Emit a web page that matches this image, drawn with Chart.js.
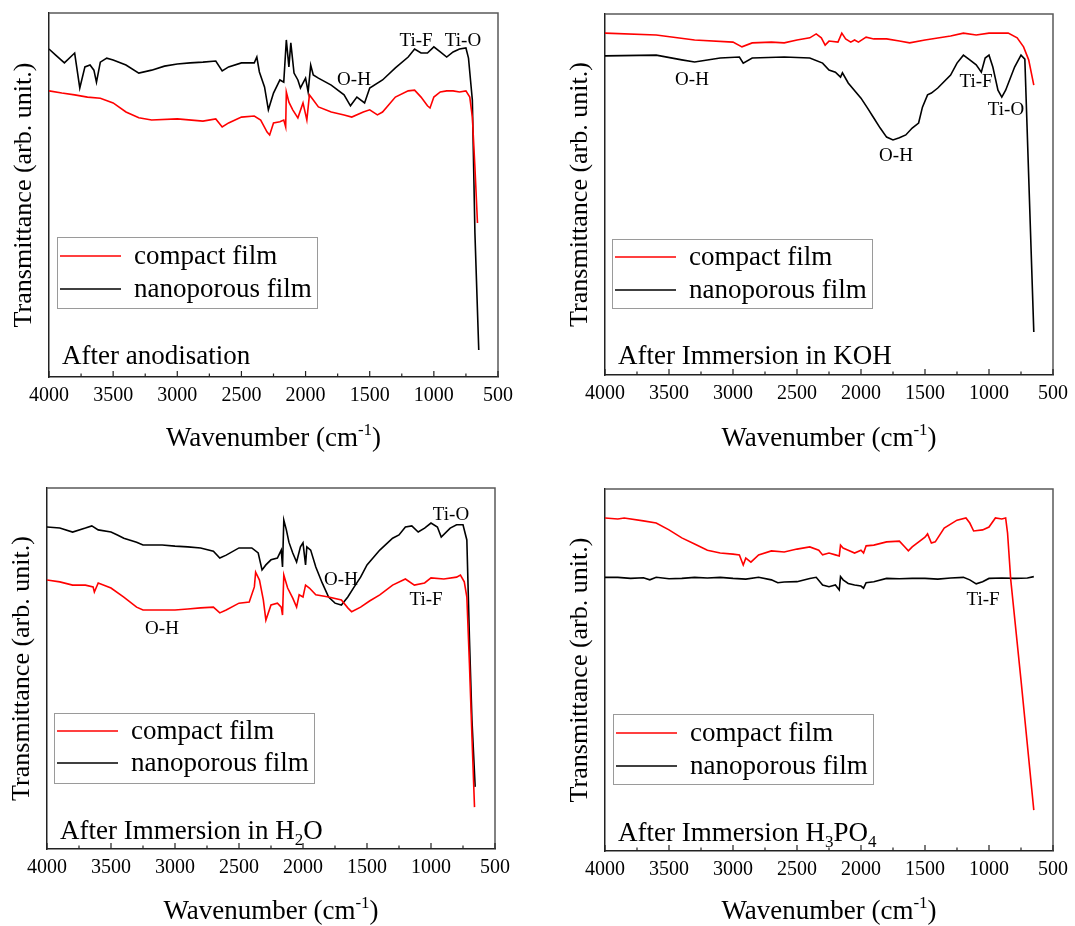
<!DOCTYPE html>
<html>
<head>
<meta charset="utf-8">
<script src="https://cdn.jsdelivr.net/npm/chart.js@4.4.1/dist/chart.umd.min.js"></script>
<style>
html, body { margin: 0; padding: 0; background: #fff; }
#wrap { position: relative; width: 1075px; height: 926px; }
#wrap canvas { position: absolute; left: 0; top: 0; }
</style>
</head>
<body>
<div id="wrap">
  <canvas id="c1" width="1075" height="926"></canvas>
  <canvas id="c2" width="1075" height="926"></canvas>
  <canvas id="c3" width="1075" height="926"></canvas>
  <canvas id="c4" width="1075" height="926"></canvas>
</div>
<script>
// ---- axis ticks (cm-1) ----
const xTicks = [4000, 3500, 3000, 2500, 2000, 1500, 1000, 500];
const xMinorTicks = [3750, 3250, 2750, 2250, 1750, 1250, 750];
const seriesNames = ['compact film', 'nanoporous film'];

// ---- After anodisation ----
const anodCompactWn = [4000,3900,3800,3700,3600,3500,3400,3300,3200,3000,2800,2700,2650,2600,2500,2400,2350,2300,2280,2250,2200,2170,2155,2150,2130,2100,2060,2020,1990,1970,1950,1900,1800,1700,1640,1550,1500,1440,1400,1300,1200,1150,1100,1050,1030,1000,950,900,850,800,750,720,700,680,660];
const anodCompact = [78.6,78.0,77.5,76.9,76.6,75.3,72.8,71.2,70.6,70.9,70.3,70.9,68.7,69.8,71.4,71.7,70.6,67.3,66.5,69.8,70.1,70.6,68.7,78.3,75.5,73.4,71.2,75.3,70.6,77.5,76.6,74.2,72.8,72.0,71.4,72.8,73.4,72.0,72.8,76.9,78.6,78.8,76.9,74.5,73.9,76.9,78.3,78.6,78.6,78.3,78.6,76.9,71.4,57.7,42.3];
const anodPorousWn = [4000,3950,3880,3800,3760,3720,3680,3650,3630,3600,3550,3500,3400,3300,3200,3100,3000,2900,2800,2700,2650,2600,2500,2400,2380,2360,2320,2290,2250,2200,2170,2150,2130,2115,2090,2060,2040,2000,1980,1960,1940,1900,1800,1700,1650,1600,1540,1500,1400,1300,1200,1150,1100,1050,1000,950,900,850,800,750,730,700,680,650];
const anodPorous = [90.1,88.5,86.3,89.0,79.4,85.2,85.7,84.3,81.0,86.5,87.6,87.1,85.7,83.5,84.3,85.4,86.0,86.3,86.5,86.8,84.1,85.2,86.3,86.3,87.9,83.8,79.7,73.4,78.0,81.6,81.0,92.6,85.2,91.8,83.5,81.6,79.4,82.1,78.3,85.7,83.0,82.1,80.2,77.5,74.5,76.9,75.3,79.4,81.6,84.9,87.9,90.1,89.0,89.0,90.7,89.3,87.9,89.3,90.1,90.4,87.6,76.1,39.6,7.4];

// ---- After immersion in KOH ----
const kohCompactWn = [4000,3600,3300,3000,2930,2850,2700,2600,2500,2400,2350,2310,2280,2250,2180,2150,2120,2080,2050,2020,1960,1900,1800,1700,1620,1500,1300,1200,1100,1000,850,780,730,690,650];
const kohCompact = [94.7,94.2,92.8,92.2,90.9,92.0,92.2,92.0,92.8,93.4,94.5,93.4,91.4,92.5,92.2,94.7,93.1,92.2,92.8,92.2,93.6,93.1,93.1,92.5,92.0,92.8,93.9,94.7,94.2,94.7,94.7,93.4,90.9,87.3,80.3];
const kohPorousWn = [4000,3600,3400,3300,3100,2950,2920,2850,2600,2400,2300,2250,2200,2160,2145,2100,2000,1950,1900,1850,1800,1750,1700,1650,1600,1550,1520,1480,1450,1400,1300,1250,1200,1150,1100,1060,1030,1000,970,930,900,870,800,750,720,650];
const kohPorous = [88.4,88.6,87.3,86.7,87.8,88.1,86.4,87.8,88.1,87.8,86.4,84.5,83.9,82.5,83.7,80.9,76.7,74.0,71.2,68.4,65.9,65.1,65.7,66.5,68.4,69.8,74.2,77.6,78.1,79.5,83.1,86.4,88.6,87.3,85.9,83.9,87.8,88.6,85.3,78.9,77.0,78.9,85.3,88.6,87.5,11.9];

// ---- After immersion in H2O ----
const h2oCompactWn = [4000,3900,3800,3700,3640,3630,3600,3500,3400,3300,3250,3100,3000,2900,2800,2700,2650,2600,2500,2420,2380,2370,2340,2310,2290,2250,2200,2170,2160,2150,2120,2080,2050,2030,2000,1980,1950,1900,1800,1700,1650,1620,1550,1480,1400,1300,1200,1130,1050,1000,900,800,770,740,720,700,680,660];
const h2oCompact = [74.5,74.0,73.1,73.1,72.6,71.2,73.7,72.3,69.8,67.0,66.2,66.2,66.2,66.5,66.8,67.0,65.4,66.2,68.1,68.4,72.6,76.7,74.5,69.0,63.4,67.6,68.1,67.0,64.8,75.9,72.3,69.5,67.0,70.4,69.8,73.1,72.3,70.4,69.8,69.0,66.8,65.7,67.0,68.7,70.4,73.1,74.8,73.1,73.7,75.1,74.8,75.3,75.9,74.0,69.8,51.5,31.0,11.6];
const h2oPorousWn = [4000,3900,3800,3700,3650,3600,3500,3450,3400,3300,3250,3100,3000,2900,2800,2700,2650,2600,2500,2400,2350,2320,2290,2250,2200,2170,2160,2150,2130,2110,2080,2050,2020,2000,1980,1970,1940,1900,1850,1800,1750,1700,1650,1600,1550,1500,1400,1300,1250,1200,1150,1100,1050,1000,950,920,850,800,750,720,700,680,655];
const h2oPorous = [89.2,88.9,87.8,88.9,89.5,88.4,87.8,87.0,86.1,85.0,84.2,84.2,83.9,83.7,83.4,82.5,80.6,81.4,83.4,83.4,82.0,77.3,78.7,80.1,80.6,82.8,78.1,91.1,88.4,85.0,82.0,79.5,83.7,84.8,78.7,83.7,82.8,78.1,73.7,69.8,68.1,67.6,69.8,72.6,75.3,78.7,82.8,86.1,87.0,89.2,89.5,87.8,88.9,90.3,89.2,86.4,88.9,89.8,89.8,85.6,58.7,35.7,17.2];

// ---- After immersion in H3PO4 ----
const h3po4CompactWn = [4000,3900,3850,3700,3600,3500,3400,3300,3200,3100,3000,2950,2920,2900,2860,2800,2700,2600,2500,2400,2330,2300,2250,2200,2170,2160,2140,2100,2050,2000,1980,1960,1900,1800,1700,1650,1630,1600,1500,1480,1450,1420,1350,1250,1180,1150,1120,1050,1000,950,900,870,855,830,750,650];
const h3po4Compact = [92.0,91.7,92.0,91.2,90.6,88.7,86.5,84.8,83.1,82.3,82.0,81.8,79.0,80.9,79.8,81.8,82.9,82.6,83.4,84.0,83.1,81.8,82.3,81.8,81.5,84.5,83.7,83.1,82.3,83.1,82.3,84.3,84.5,85.4,85.6,83.7,82.9,84.0,86.7,87.6,85.1,85.4,89.2,91.4,92.0,90.6,88.4,88.7,89.5,92.0,91.7,92.0,87.8,74.9,47.2,11.3];
const h3po4PorousWn = [4000,3900,3800,3700,3650,3600,3500,3400,3300,3200,3100,3000,2900,2800,2700,2650,2600,2500,2400,2350,2300,2250,2200,2170,2160,2140,2100,2050,2000,1980,1960,1900,1800,1700,1600,1500,1400,1300,1200,1150,1100,1050,1000,900,800,700,650];
const h3po4Porous = [75.6,75.6,75.3,75.5,74.9,75.6,75.2,75.3,75.6,75.4,75.6,75.3,75.1,75.6,74.9,74.1,74.3,74.4,75.3,75.6,73.5,73.0,73.5,72.1,75.8,74.9,73.9,73.5,73.2,72.6,74.1,74.4,75.3,75.2,75.3,75.3,75.1,75.4,75.6,74.9,73.8,74.4,75.3,75.4,75.3,75.4,75.8];

const FONT = '"Liberation Serif", "Times New Roman", serif';
Chart.defaults.font.family = FONT;
Chart.defaults.color = '#000';

const xTitle = [{ t: 'Wavenumber (cm' }, { t: '-1', sup: true }, { t: ')' }];

// page layout of each panel (plot box, legend, labels)
const panels = [
    {
        id: 'c1', area: { l: 49, t: 13, r: 498, b: 377 }, titleY: 446,
        label: [{ t: 'After anodisation' }], labelX: 62, labelY: 364,
        notes: [{ t: 'O-H', x: 354, y: 85 }, { t: 'Ti-F', x: 416, y: 46 }, { t: 'Ti-O', x: 463, y: 46 }],
        legend: { x: 57, y: 237, w: 260, h: 71, rows: [19, 52] },
        compact: [anodCompactWn, anodCompact], porous: [anodPorousWn, anodPorous]
    },
    {
        id: 'c2', area: { l: 605, t: 14, r: 1054, b: 375 }, titleY: 446,
        label: [{ t: 'After Immersion in KOH' }], labelX: 618, labelY: 364,
        notes: [{ t: 'O-H', x: 692, y: 85 }, { t: 'O-H', x: 896, y: 161 }, { t: 'Ti-F', x: 976, y: 87 }, { t: 'Ti-O', x: 1006, y: 115 }],
        legend: { x: 612, y: 239, w: 260, h: 69, rows: [18, 51] },
        compact: [kohCompactWn, kohCompact], porous: [kohPorousWn, kohPorous]
    },
    {
        id: 'c3', area: { l: 47, t: 488, r: 495, b: 849 }, titleY: 919,
        label: [{ t: 'After Immersion in H' }, { t: '2', sub: true }, { t: 'O' }], labelX: 60, labelY: 839,
        notes: [{ t: 'O-H', x: 162, y: 634 }, { t: 'O-H', x: 341, y: 585 }, { t: 'Ti-F', x: 426, y: 605 }, { t: 'Ti-O', x: 451, y: 520 }],
        legend: { x: 54, y: 713, w: 260, h: 70, rows: [18, 50] },
        compact: [h2oCompactWn, h2oCompact], porous: [h2oPorousWn, h2oPorous]
    },
    {
        id: 'c4', area: { l: 605, t: 489, r: 1054, b: 851 }, titleY: 919,
        label: [{ t: 'After Immersion H' }, { t: '3', sub: true }, { t: 'PO' }, { t: '4', sub: true }], labelX: 618, labelY: 841,
        notes: [{ t: 'Ti-F', x: 983, y: 605 }],
        legend: { x: 613, y: 714, w: 260, h: 70, rows: [19, 52] },
        compact: [h3po4CompactWn, h3po4Compact], porous: [h3po4PorousWn, h3po4Porous]
    }
];

function pts(wn, t) {
    return wn.map((w, i) => ({ x: w, y: t[i] }));
}

// text with sub/superscripts, drawn on the canvas
function drawRich(ctx, parts, x, y, size, align) {
    const sizeOf = p => (p.sub || p.sup) ? Math.round(size * 0.62) : size;
    const widths = parts.map(p => {
        ctx.font = sizeOf(p) + 'px ' + FONT;
        return ctx.measureText(p.t).width;
    });
    const total = widths.reduce((a, b) => a + b, 0);
    let cx = align === 'center' ? x - total / 2 : x;
    ctx.textAlign = 'left';
    ctx.textBaseline = 'alphabetic';
    parts.forEach((p, i) => {
        ctx.font = sizeOf(p) + 'px ' + FONT;
        const dy = p.sub ? size * 0.24 : p.sup ? -size * 0.42 : 0;
        ctx.fillText(p.t, cx, y + dy);
        cx += widths[i];
    });
}

const decor = {
    id: 'decor',
    afterDraw(chart, args, o) {
        const ctx = chart.ctx;
        const a = chart.chartArea;
        const xs = chart.scales.x;
        ctx.save();

        // top and right frame
        ctx.strokeStyle = '#5a5a5a';
        ctx.lineWidth = 1.5;
        ctx.beginPath();
        ctx.moveTo(a.left, a.top);
        ctx.lineTo(a.right, a.top);
        ctx.lineTo(a.right, a.bottom);
        ctx.stroke();

        // inward tick marks
        ctx.strokeStyle = '#222';
        ctx.lineWidth = 1.2;
        ctx.beginPath();
        xTicks.concat(xMinorTicks).forEach(v => {
            const px = xs.getPixelForValue(v);
            const len = xTicks.includes(v) ? 6 : 3.5;
            ctx.moveTo(px, a.bottom);
            ctx.lineTo(px, a.bottom - len);
        });
        ctx.stroke();

        ctx.fillStyle = '#000';
        drawRich(ctx, xTitle, (a.left + a.right) / 2, o.titleY, 27, 'center');
        drawRich(ctx, o.label, o.labelX, o.labelY, 27, 'left');
        o.notes.forEach(n => drawRich(ctx, [{ t: n.t }], n.x, n.y, 19, 'center'));

        // legend box
        const L = o.legend;
        ctx.fillStyle = '#fff';
        ctx.fillRect(L.x, L.y, L.w, L.h);
        ctx.strokeStyle = '#9a9a9a';
        ctx.lineWidth = 1;
        ctx.strokeRect(L.x + 0.5, L.y + 0.5, L.w, L.h);
        chart.data.datasets.forEach((ds, i) => {
            const ly = L.y + L.rows[i];
            ctx.strokeStyle = ds.borderColor;
            ctx.lineWidth = 1.5;
            ctx.beginPath();
            ctx.moveTo(L.x + 3, ly);
            ctx.lineTo(L.x + 64, ly);
            ctx.stroke();
            ctx.fillStyle = '#000';
            ctx.font = '27px ' + FONT;
            ctx.textAlign = 'left';
            ctx.textBaseline = 'middle';
            ctx.fillText(ds.label, L.x + 77, ly + 1);
        });
        ctx.restore();
    }
};

panels.forEach(p => {
    const a = p.area;
    new Chart(document.getElementById(p.id), {
        type: 'line',
        data: {
            datasets: [
                { label: seriesNames[0], data: pts(p.compact[0], p.compact[1]), borderColor: '#ff0000', borderWidth: 1.6, pointRadius: 0, tension: 0 },
                { label: seriesNames[1], data: pts(p.porous[0], p.porous[1]), borderColor: '#000000', borderWidth: 1.6, pointRadius: 0, tension: 0 }
            ]
        },
        options: {
            responsive: false,
            animation: false,
            events: [],
            layout: { padding: { left: a.l - 40, top: a.t, right: 1075 - a.r, bottom: 926 - a.b - 40 } },
            plugins: {
                legend: { display: false },
                tooltip: { enabled: false },
                decor: p
            },
            scales: {
                x: {
                    type: 'linear', reverse: true, min: 500, max: 4000,
                    afterBuildTicks: s => { s.ticks = xTicks.map(v => ({ value: v })); },
                    afterFit: s => { s.height = 40; },
                    ticks: { callback: v => String(v), font: { size: 20 }, color: '#000', padding: 7, maxRotation: 0, autoSkip: false },
                    grid: { display: false, drawTicks: false },
                    border: { display: true, color: '#222', width: 1.5 }
                },
                y: {
                    min: 0, max: 100,
                    afterFit: s => { s.width = 40; },
                    ticks: { display: false },
                    grid: { display: false, drawTicks: false },
                    border: { display: true, color: '#222', width: 1.5 },
                    title: { display: true, text: 'Transmittance (arb. unit.)', font: { size: 26 }, color: '#000', padding: 0 }
                }
            }
        },
        plugins: [decor]
    });
});
</script>
</body>
</html>
